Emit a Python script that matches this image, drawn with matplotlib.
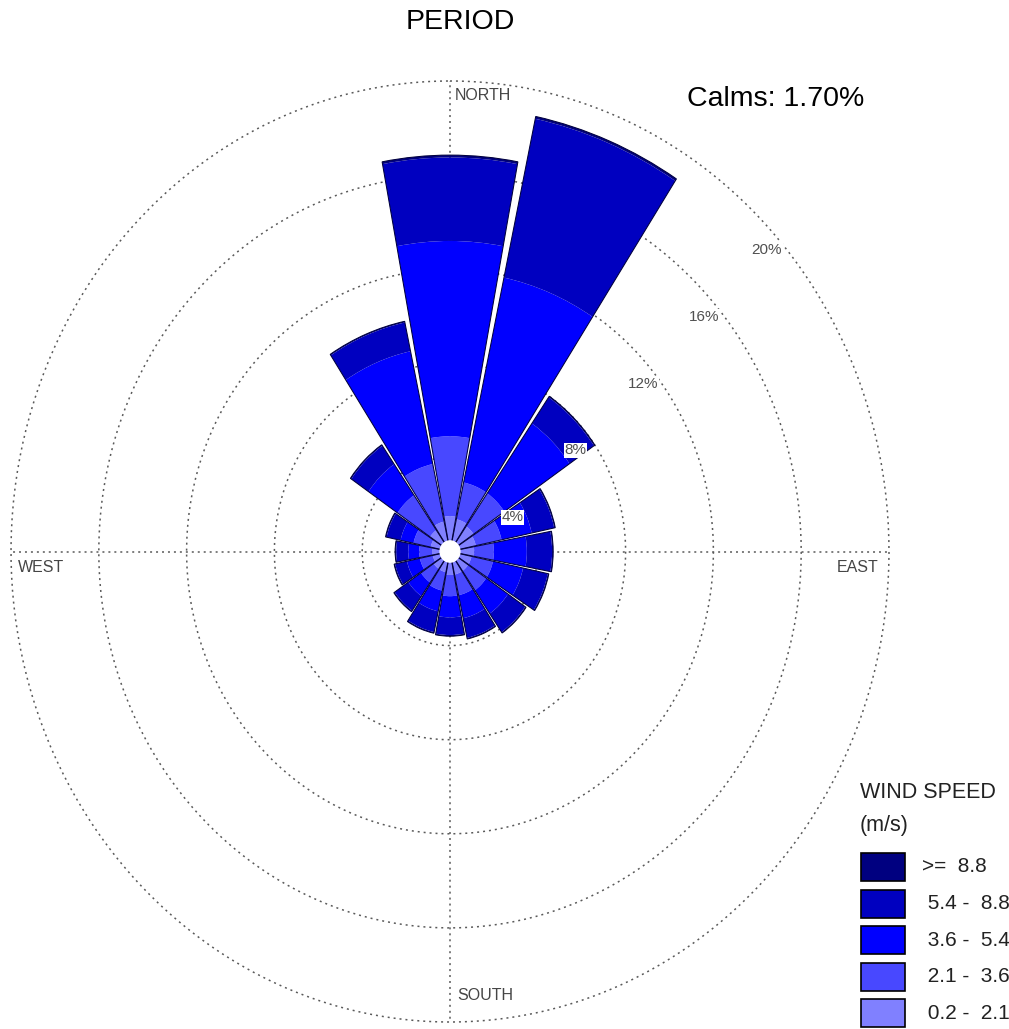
import numpy as np
import matplotlib
matplotlib.use("Agg")
import matplotlib.pyplot as plt

plt.rcParams["font.family"] = ["Liberation Sans", "DejaVu Sans"]

# Wind rose data: frequency (%) per direction sector and speed class
directions = ["N", "NNE", "NE", "ENE", "E", "ESE", "SE", "SSE",
              "S", "SSW", "SW", "WSW", "W", "WNW", "NW", "NNW"]
speed_labels = [">=  8.8", " 5.4 -  8.8", " 3.6 -  5.4", " 2.1 -  3.6", " 0.2 -  2.1"]

spd_02_21 = [1.5, 1.4, 1.3, 1.2, 1.1, 1.0, 1.0, 1.0, 1.0, 0.9, 0.9, 0.8, 0.8, 0.9, 1.1, 1.3]
spd_21_36 = [3.4, 1.6, 1.7, 1.2, 0.9, 1.0, 1.0, 0.9, 0.9, 0.8, 0.7, 0.6, 0.6, 0.8, 1.8, 2.5]
spd_36_54 = [8.3, 8.9, 3.6, 1.4, 1.5, 1.4, 1.2, 1.0, 0.9, 0.9, 0.7, 0.6, 0.5, 0.6, 1.6, 4.9]
spd_54_88 = [3.55, 6.9, 1.35, 1.05, 1.15, 1.15, 0.95, 0.85, 0.75, 0.9, 0.75, 0.55, 0.55, 0.65, 0.95, 1.25]
spd_ge_88 = [0.1, 0.1, 0.05, 0.05, 0.05, 0.05, 0.05, 0.05, 0.05, 0.05, 0.05, 0.05, 0.05, 0.05, 0.05, 0.05]

calms = 1.70
ring_values = [4, 8, 12, 16, 20]

speed_series = [spd_02_21, spd_21_36, spd_36_54, spd_54_88, spd_ge_88]
speed_colors = ["#8080FF", "#4848FF", "#0000FF", "#0000C0", "#000080"]

W, H = 1009, 1029
fig = plt.figure(figsize=(W / 100, H / 100), dpi=100)


def fx(x):
    return x / W


def fy(y):
    return 1 - y / H


ax = fig.add_axes([fx(11), fy(1022), 878 / W, 941 / H], projection="polar")
ax.set_aspect("auto")
ax.set_theta_zero_location("N")
ax.set_theta_direction(-1)
ax.set_ylim(0, 20)
ax.grid(False)
ax.set_xticks([])
ax.set_yticks([])
ax.spines["polar"].set_visible(False)
ax.patch.set_visible(False)

grid_kw = dict(color="#5a5a5a", lw=1.1, ls=(0, (1.3, 2.6)), zorder=1, clip_on=False)
tt = np.linspace(0, 2 * np.pi, 400)
for r in ring_values:
    ax.plot(tt, np.full_like(tt, r), **grid_kw)
for a in [0, 90, 180, 270]:
    ax.plot([np.deg2rad(a)] * 2, [0, 20], **grid_kw)

theta = np.deg2rad(np.arange(len(directions)) * 22.5)
width = np.deg2rad(22.5) * 0.94
bottom = np.zeros(len(directions))
for vals, col in zip(speed_series, speed_colors):
    vals = np.asarray(vals)
    ax.bar(theta, vals, width=width, bottom=bottom, color=col,
           edgecolor="none", linewidth=0, zorder=2)
    bottom = bottom + vals
ax.bar(theta, bottom, width=width, bottom=0, facecolor="none",
       edgecolor="#00003c", linewidth=0.75, zorder=3)

# white calm circle at the centre
ax.fill(tt, np.full_like(tt, 0.45), color="white", zorder=4)

# ring labels
label_pos = [(63, 3.2), (53, 7.15), (51, 11.3), (49.3, 15.3), (48.4, 19.3)]
for v, (ang, rr) in zip(ring_values, label_pos):
    ax.text(np.deg2rad(ang), rr, f"{v}%", ha="center", va="center",
            fontsize=11, color="#505050", zorder=5,
            bbox=dict(facecolor="white", edgecolor="none", pad=0.6))

dir_kw = dict(fontsize=11.5, color="#454545")
fig.text(fx(455), fy(95), "NORTH", ha="left", va="center", **dir_kw)
fig.text(fx(457), fy(995), "SOUTH", ha="left", va="center", **dir_kw)
fig.text(fx(18), fy(567), "WEST", ha="left", va="center", **dir_kw)
fig.text(fx(879), fy(567), "EAST", ha="right", va="center", **dir_kw)

fig.text(fx(460), fy(22), "PERIOD", ha="center", va="center", fontsize=20.5, color="black")
fig.text(fx(687), fy(99), f"Calms: {calms:.2f}%", ha="left", va="center", fontsize=20.5, color="black")

# legend
fig.text(fx(860), fy(792), "WIND SPEED", ha="left", va="center", fontsize=15.5, color="#222222")
fig.text(fx(860), fy(825), "(m/s)", ha="left", va="center", fontsize=15.5, color="#222222")
legend_colors = speed_colors[::-1]
for i, (lab, col) in enumerate(zip(speed_labels, legend_colors)):
    yc = 867 + i * 36.6
    fig.patches.append(plt.Rectangle((fx(861), fy(yc + 14)), 44 / W, 28 / H,
                                     transform=fig.transFigure, facecolor=col,
                                     edgecolor="black", linewidth=1.2))
    fig.text(fx(922), fy(yc), lab, ha="left", va="center", fontsize=15, color="#222222")

fig.savefig("out.png", dpi=100, facecolor="white")
